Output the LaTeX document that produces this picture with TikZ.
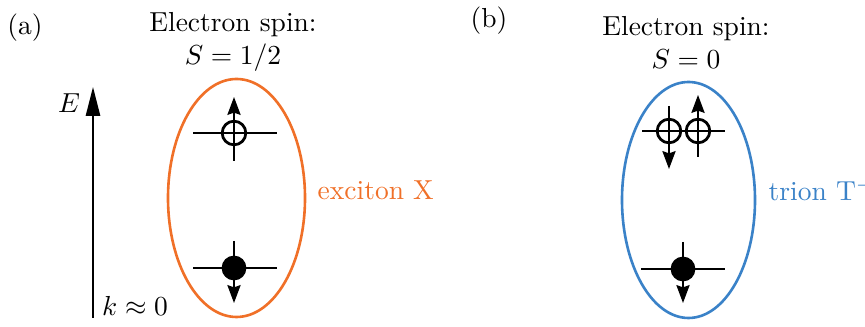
\documentclass[tikz,border=0pt]{standalone}
\usepackage{amsmath, amssymb}
\usepackage{xcolor}
\usepackage{tikz}
\usetikzlibrary{arrows.meta, positioning, calc}

\definecolor{xorange}{RGB}{240,112,40}
\definecolor{tblue}{RGB}{58,130,200}

\begin{document}
\begin{tikzpicture}[
    x=0.3636pt, y=-0.3636pt,
    hole/.style={circle, draw, line width=1pt, minimum size=8.6pt, inner sep=0pt},
    elec/.style={circle, fill=black, minimum size=9pt, inner sep=0pt},
    level/.style={line width=0.6pt},
    spin/.style={line width=0.6pt, -{Stealth[length=6.5pt, width=4.8pt, inset=0.8pt]}},
    axis/.style={line width=0.6pt, -{Triangle[length=10.5pt, width=5.2pt]}},
    ring/.style={line width=0.95pt},
]
    \useasboundingbox (0,0) rectangle (865,327);

    % (a) exciton
    \node (pa) at (25,28) {(a)};
    \node[align=center] (ta) at (233,42) {Electron spin:\\$S=1/2$};

    \coordinate (k0) at (93,318);
    \coordinate (etop) at (93,87);
    \draw[axis] (k0) -- (etop);
    \node (elab) at (69,103) {$E$};
    \node (klab) at (135,306) {$k\approx0$};

    \draw[ring, xorange] (236.5,198) ellipse [x radius=68.5, y radius=119];
    \node[anchor=west, text=xorange] (xlab) at (308,190) {exciton X};

    \coordinate (a1l) at (193,133);
    \coordinate (a1r) at (277,133);
    \coordinate (a1b) at (234,161);
    \coordinate (a1t) at (234,97);
    \draw[level] (a1l) -- (a1r);
    \draw[spin] (a1b) -- (a1t);
    \node[hole] (ha) at (234,133) {};

    \coordinate (a2l) at (193,268);
    \coordinate (a2r) at (277,268);
    \coordinate (a2t) at (234,241);
    \coordinate (a2b) at (234,303);
    \draw[level] (a2l) -- (a2r);
    \draw[spin] (a2t) -- (a2b);
    \node[elec] (ea) at (234,268) {};

    % (b) trion
    \node (pb) at (489,21) {(b)};
    \node[align=center] (tb) at (686,42) {Electron spin:\\$S=0$};

    \draw[ring, tblue] (688.5,200) ellipse [x radius=66.5, y radius=118];
    \node[anchor=west, text=tblue] (tlab) at (759,190) {trion T$^-$};

    \coordinate (b1l) at (642,131);
    \coordinate (b1r) at (725,131);
    \coordinate (b1t) at (669,106);
    \coordinate (b1b) at (669,169);
    \coordinate (b2b) at (698,157);
    \coordinate (b2t) at (698,95);
    \draw[level] (b1l) -- (b1r);
    \draw[spin] (b1t) -- (b1b);
    \draw[spin] (b2b) -- (b2t);
    \node[hole] (hb1) at (669,131) {};
    \node[hole] (hb2) at (698,131) {};

    \coordinate (b3l) at (641,269);
    \coordinate (b3r) at (725,269);
    \coordinate (b3t) at (683,242);
    \coordinate (b3b) at (683,303);
    \draw[level] (b3l) -- (b3r);
    \draw[spin] (b3t) -- (b3b);
    \node[elec] (eb) at (683,269) {};
\end{tikzpicture}
\end{document}
